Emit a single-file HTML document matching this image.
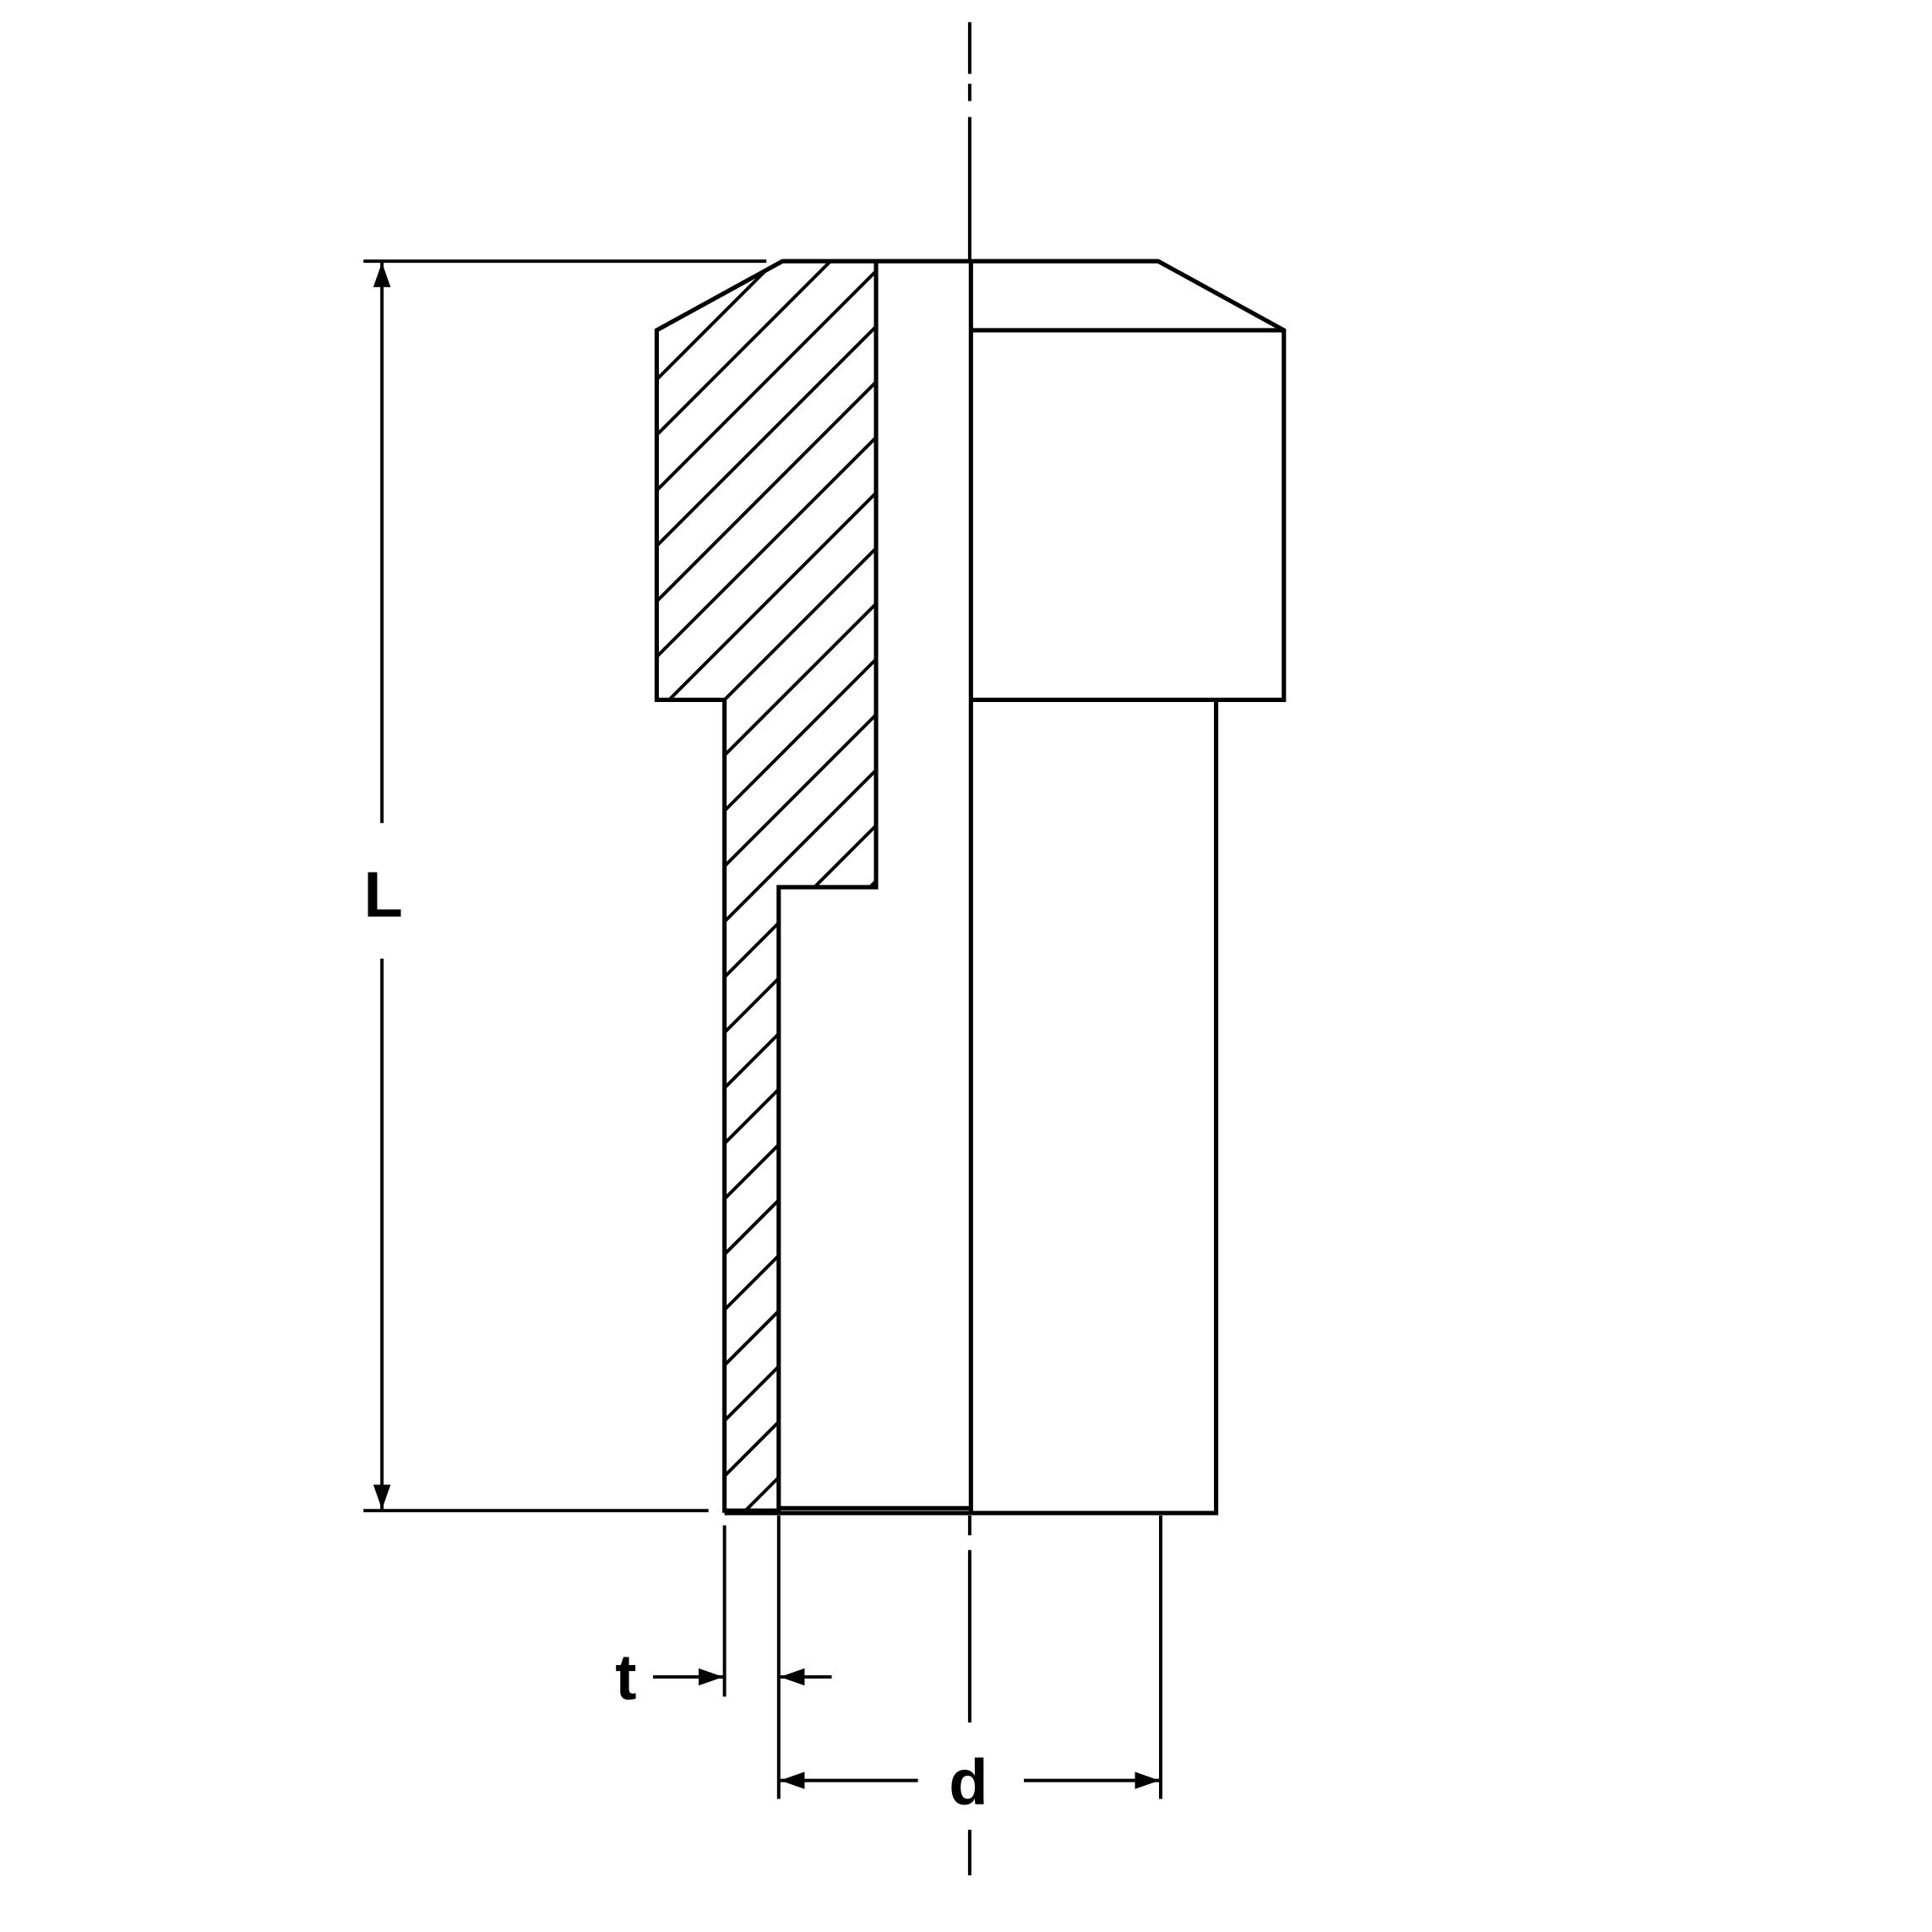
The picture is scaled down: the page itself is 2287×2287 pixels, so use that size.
<!DOCTYPE html>
<html><head><meta charset="utf-8"><style>
html,body{margin:0;padding:0;background:#fff;width:2287px;height:2287px;overflow:hidden;}
svg{display:block;}
text{font-family:"Liberation Sans",sans-serif;font-weight:bold;}
</style></head><body>
<svg width="2287" height="2287" viewBox="0 0 1568 1568" xmlns="http://www.w3.org/2000/svg">
<defs>
<clipPath id="hc"><polygon points="635,212 711,212 711,720 632,720 632,1226 588,1226 588,568 533,568 533,268"/></clipPath>
<marker id="ar" viewBox="0 0 20 14" refX="20" refY="7" markerWidth="20" markerHeight="14" markerUnits="userSpaceOnUse" orient="auto"><path d="M0,0 L20,7 L0,14 z" fill="#000"/></marker>
</defs>
<rect width="1568" height="1568" fill="#fff"/>
<g clip-path="url(#hc)" stroke="#000" stroke-width="2.7">
<path d="M0,841 L841,0 M0,886 L886,0 M0,931 L931,0 M0,976 L976,0 M0,1021 L1021,0 M0,1066 L1066,0 M0,1111 L1111,0 M0,1156 L1156,0 M0,1201 L1201,0 M0,1246 L1246,0 M0,1291 L1291,0 M0,1336 L1336,0 M0,1381 L1381,0 M0,1426 L1426,0 M0,1471 L1471,0 M0,1516 L1516,0 M0,1561 L1561,0 M0,1606 L1606,0 M0,1651 L1651,0 M0,1696 L1696,0 M0,1741 L1741,0 M0,1786 L1786,0 M0,1831 L1831,0 M0,1876 L1876,0 M0,1921 L1921,0"/>
</g>
<g stroke="#000" stroke-width="3.5" fill="none" stroke-linejoin="miter">
<polygon points="635,212 711,212 711,720 632,720 632,1226 588,1226 588,568 533,568 533,268"/>
<polyline points="711,212 940,212 1042,268 1042,568 788,568"/>
<line x1="788" y1="268" x2="1042" y2="268"/>
<polyline points="987,568 987,1228 588,1228"/>
<line x1="788" y1="212" x2="788" y2="1228"/>
<line x1="632" y1="1224" x2="788" y2="1224"/>
</g>
<g stroke="#000" stroke-width="2.7">
<line x1="787" y1="18" x2="787" y2="60"/>
<line x1="787" y1="68" x2="787" y2="82"/>
<line x1="787" y1="95" x2="787" y2="212"/>
<line x1="787" y1="1230" x2="787" y2="1246"/>
<line x1="787" y1="1258" x2="787" y2="1398"/>
<line x1="787" y1="1485" x2="787" y2="1522"/>
<line x1="295" y1="212" x2="622" y2="212"/>
<line x1="295" y1="1226" x2="575" y2="1226"/>
<line x1="310" y1="668" x2="310" y2="213" marker-end="url(#ar)"/>
<line x1="310" y1="778" x2="310" y2="1225" marker-end="url(#ar)"/>
<line x1="588" y1="1238" x2="588" y2="1377"/>
<line x1="632" y1="1230" x2="632" y2="1460"/>
<line x1="942" y1="1230" x2="942" y2="1460"/>
<line x1="530" y1="1361" x2="587" y2="1361" marker-end="url(#ar)"/>
<line x1="675" y1="1361" x2="633" y2="1361" marker-end="url(#ar)"/>
<line x1="745" y1="1445" x2="633" y2="1445" marker-end="url(#ar)"/>
<line x1="831" y1="1445" x2="941" y2="1445" marker-end="url(#ar)"/>
</g>
<text x="311" y="744" font-size="52" text-anchor="middle">L</text>
<text x="508" y="1379" font-size="52" text-anchor="middle">t</text>
<text x="786" y="1464" font-size="52" text-anchor="middle">d</text>
</svg>
</body></html>
